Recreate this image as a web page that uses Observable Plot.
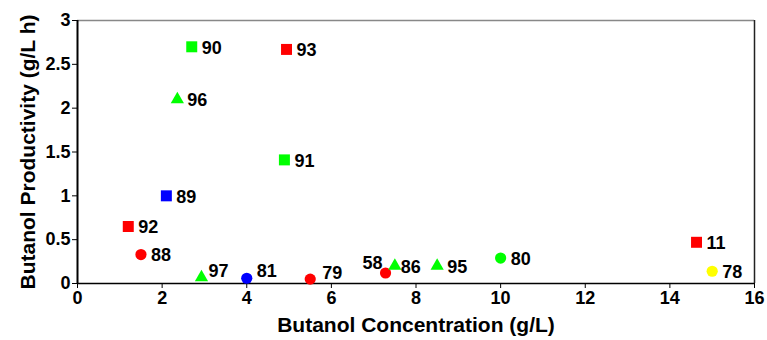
<!DOCTYPE html>
<html>
<head>
<meta charset="utf-8">
<script src="https://cdn.jsdelivr.net/npm/d3@7"></script>
<script src="https://cdn.jsdelivr.net/npm/@observablehq/plot@0.6"></script>
<style>
  html, body { margin: 0; padding: 0; background: #fff; }
</style>
</head>
<body>
<div id="chart"></div>
<script>
const ids = ["90", "93", "96", "91", "89", "92", "88", "97", "81", "79", "58", "86", "95", "80", "11", "78"];
const concentration = [2.7, 4.94, 2.36, 4.89, 2.1, 1.2, 1.5, 2.93, 4.0, 5.5, 7.28, 7.5, 8.5, 10.0, 14.63, 15.0];
const productivity = [2.7, 2.67, 2.1, 1.41, 1.0, 0.65, 0.33, 0.07, 0.06, 0.05, 0.12, 0.2, 0.2, 0.29, 0.47, 0.14];
const colors = ["#00ff00", "#ff0000", "#00ff00", "#00ff00", "#0000ff", "#ff0000", "#ff0000", "#00ff00", "#0000ff", "#ff0000", "#ff0000", "#00ff00", "#00ff00", "#00ff00", "#ff0000", "#ffff00"];
const shapes = ["square", "square", "triangle", "square", "square", "square", "circle", "triangle", "circle", "circle", "circle", "triangle", "triangle", "circle", "square", "circle"];
const xTicks = [0, 2, 4, 6, 8, 10, 12, 14, 16];
const yTicks = [0, 0.5, 1, 1.5, 2, 2.5, 3];
const xTitle = "Butanol Concentration (g/L)";
const yTitle = "Butanol Productivity (g/L h)";

const data = ids.map((id, i) => ({
  id, x: concentration[i], y: productivity[i], color: colors[i], shape: shapes[i]
}));
const radius = {square: 6.2, circle: 5.6, triangle: 4.9};
// label placement tweaks (pixel offsets relative to the marker)
const labelShift = {"97": [7, -7], "81": [10, -8], "79": [12, -7], "86": [6, 0]};
const leftLabels = new Set(["58"]);
const rightData = data.filter(d => !leftLabels.has(d.id));

const chart = Plot.plot({
  width: 767,
  height: 340,
  marginLeft: 77,
  marginRight: 13,
  marginTop: 20,
  marginBottom: 57,
  style: {fontFamily: "'Liberation Sans', Arial, sans-serif", fontWeight: "bold", fontSize: "18px", color: "#000", background: "#fff"},
  x: {domain: [0, 16]},
  y: {domain: [0, 3]},
  r: {type: "identity"},
  symbol: {type: "identity"},
  marks: [
    Plot.ruleY([3], {stroke: "#888", strokeWidth: 1.5}),
    Plot.ruleX([16], {stroke: "#222", strokeWidth: 1.5}),
    Plot.axisX({ticks: xTicks, tickSize: 5, tickPadding: 3, tickFormat: d3.format("~g"), label: null, fontSize: 18}),
    Plot.axisY({ticks: yTicks, tickSize: 5, tickPadding: 2, tickFormat: d3.format("~g"), label: null, fontSize: 18}),
    Plot.ruleX([0], {stroke: "#000", strokeWidth: 2}),
    Plot.ruleY([0], {stroke: "#000", strokeWidth: 1.5}),
    Plot.dot(data, {x: "x", y: "y", symbol: "shape", fill: "color", stroke: "none", r: d => radius[d.shape]}),
    ...rightData.map(d => {
      const [dx, dy] = labelShift[d.id] || [10, 0];
      return Plot.text([d], {x: "x", y: "y", text: "id", textAnchor: "start", dx, dy: dy + 1, fontSize: 18, fontWeight: "bold"});
    }),
    Plot.text(data.filter(d => leftLabels.has(d.id)), {x: "x", y: "y", text: "id", textAnchor: "end", dx: -3, dy: -10, fontSize: 18, fontWeight: "bold"}),
    Plot.text([xTitle], {frameAnchor: "bottom", dy: 42, textAnchor: "middle", lineAnchor: "middle", fontSize: 21, fontWeight: "bold"}),
    Plot.text([yTitle], {frameAnchor: "left", dx: -49, rotate: -90, textAnchor: "middle", lineAnchor: "middle", fontSize: 21, fontWeight: "bold"})
  ]
});
document.getElementById("chart").appendChild(chart);
</script>
</body>
</html>
